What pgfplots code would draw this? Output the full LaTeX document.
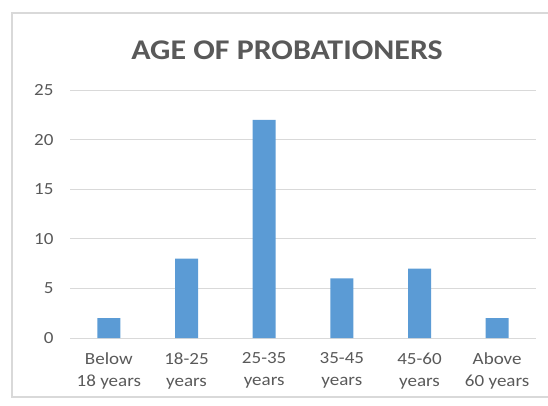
\documentclass[border=0pt]{standalone}
\usepackage{pgfplots}
\pgfplotsset{compat=1.18}
\usepackage{fontspec}
\setmainfont{Carlito}[FakeStretch=1.12]
\definecolor{barblue}{HTML}{5B9BD5}
\definecolor{txtgray}{HTML}{595959}
\definecolor{gridgray}{HTML}{D9D9D9}
\begin{document}
\begin{tikzpicture}[x=1pt,y=1pt]
\path[use as bounding box] (0,0) rectangle (548,405);
\draw[gridgray, line width=1.2pt] (560,8) -- (12,8) -- (12,392) -- (560,392);
\node[txtgray, font=\fontsize{28.5}{31}\selectfont\bfseries] at (287,355) {AGE OF PROBATIONERS};
\begin{axis}[
  at={(70pt,67pt)}, anchor=south west,
  scale only axis, width=466pt, height=248pt,
  xmin=-0.5, xmax=5.5, ymin=0, ymax=25,
  ytick={0,5,...,25},
  xtick=data,
  xticklabels={{Below\\18 years},{18-25\\years},{25-35\\years},{35-45\\years},{45-60\\years},{Above\\60 years}},
  ymajorgrids, grid style={gridgray, line width=1pt},
  axis x line*=bottom,
  axis y line*=left,
  x axis line style={gridgray, line width=1pt, -},
  y axis line style={draw=none},
  major tick length=0pt,
  tick label style={txtgray, font=\fontsize{17}{22}\selectfont},
  xticklabel style={align=center, yshift=-11pt},
  yticklabel style={xshift=-13pt},
  /pgf/number format/assume math mode=true,
  ybar, bar width=23pt,
]
\addplot[fill=barblue, draw=none] coordinates {(0,2) (1,8) (2,22) (3,6) (4,7) (5,2)};
\end{axis}
\end{tikzpicture}
\end{document}
